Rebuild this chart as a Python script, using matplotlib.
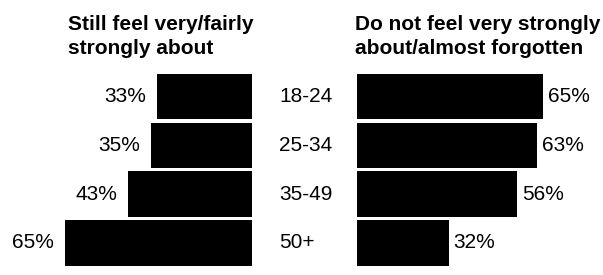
import matplotlib
matplotlib.use("Agg")
import matplotlib.pyplot as plt
from matplotlib.transforms import blended_transform_factory

ages = ["18-24", "25-34", "35-49", "50+"]
still_feel = [33, 35, 43, 65]
not_feel = [65, 63, 56, 32]

plt.rcParams['font.family'] = ['Liberation Sans', 'DejaVu Sans']

W, H = 603, 275
fig = plt.figure(figsize=(W / 100, H / 100), dpi=100)

bottom = 1 - 267.3 / H
height = 195 / H
ax_l = fig.add_axes([65 / W, bottom, 187 / W, height])
ax_r = fig.add_axes([357 / W, bottom, 186 / W, height])

ypos = list(range(len(ages)))

ax_l.barh(ypos, still_feel, height=0.935, color='black')
ax_l.set_xlim(65, 0)
ax_r.barh(ypos, not_feel, height=0.935, color='black')
ax_r.set_xlim(0, 65)

for ax in (ax_l, ax_r):
    ax.set_ylim(3.5, -0.5)
    ax.axis('off')

for y, v in zip(ypos, still_feel):
    ax_l.annotate(f"{v}%", (v, y), xytext=(-8, 0), textcoords='offset points',
                  ha='right', va='center', fontsize=15)
for y, v in zip(ypos, not_feel):
    ax_r.annotate(f"{v}%", (v, y), xytext=(3.5, 0), textcoords='offset points',
                  ha='left', va='center', fontsize=15)

trans = blended_transform_factory(fig.transFigure, ax_l.transData)
for y, a in zip(ypos, ages):
    ax_l.text(279 / W, y, a, transform=trans, ha='left', va='center',
              fontsize=15, clip_on=False)

fig.text(68 / W, 1 - 15 / H, "Still feel very/fairly\nstrongly about",
         ha='left', va='top', fontsize=15, fontweight='bold', linespacing=1.3)
fig.text(355 / W, 1 - 15 / H, "Do not feel very strongly\nabout/almost forgotten",
         ha='left', va='top', fontsize=15, fontweight='bold', linespacing=1.3)

fig.savefig("out.png", dpi=100)
